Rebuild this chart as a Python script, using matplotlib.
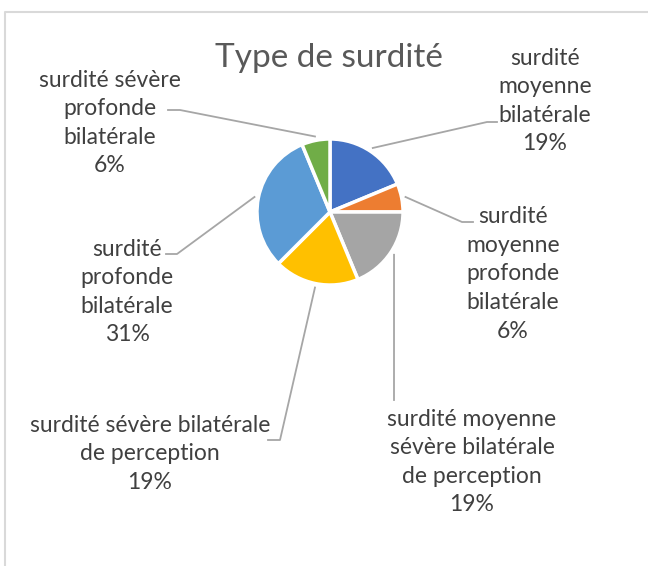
import matplotlib.pyplot as plt
import numpy as np

# number of patients per type of deafness
categories = ["surdité moyenne bilatérale",
              "surdité moyenne profonde bilatérale",
              "surdité moyenne sévère bilatérale de perception",
              "surdité sévère bilatérale de perception",
              "surdité profonde bilatérale",
              "surdité sévère profonde bilatérale"]
wrapped = ["surdité\nmoyenne\nbilatérale",
           "surdité\nmoyenne\nprofonde\nbilatérale",
           "surdité moyenne\nsévère bilatérale\nde perception",
           "surdité sévère bilatérale\nde perception",
           "surdité\nprofonde\nbilatérale",
           "surdité sévère\nprofonde\nbilatérale"]
counts = [3, 1, 3, 3, 5, 1]
colors = ["#4472C4", "#ED7D31", "#A5A5A5", "#FFC000", "#5B9BD5", "#70AD47"]

W, H = 648, 566
fig = plt.figure(figsize=(W / 100, H / 100), dpi=100)
ax = fig.add_axes([0, 0, 1, 1])

plt.rcParams["font.family"] = ["Lato", "DejaVu Sans"]

cx, cy, r = 330, H - 212, 73
wedges, _ = ax.pie(counts, colors=colors, startangle=90, counterclock=False,
                   center=(cx, cy), radius=r, explode=[0.03] * len(counts),
                   wedgeprops=dict(edgecolor="white", linewidth=2.5))
ax.set_xlim(0, W)
ax.set_ylim(0, H)
ax.set_aspect("equal")
ax.axis("off")

# chart frame (cut off at the right and bottom)
ax.plot([5, 5, W], [0, H - 12, H - 12], color="#D9D9D9", lw=1.5, clip_on=False)

ax.text(329, H - 58, "Type de surdité", ha="center", va="center",
        fontsize=24, color="#595959")

# label centre, elbow point, end of the leader line
layout = [
    ((545, 101), (487, 122), (497, 122)),
    ((513, 274), (462, 222), (473, 222)),
    ((472, 462), (394, 400), (394, 400)),
    ((150, 454), (280, 440), (268, 440)),
    ((127, 292), (177, 254), (166, 254)),
    ((110, 123), (180, 110), (168, 110)),
]

total = sum(counts)
for w, lab, v, (tpos, elbow, end) in zip(wedges, wrapped, counts, layout):
    mid = np.deg2rad((w.theta1 + w.theta2) / 2)
    sx = cx + (r + 4) * np.cos(mid)
    sy = cy + (r + 4) * np.sin(mid)
    ax.plot([sx, elbow[0], end[0]], [sy, H - elbow[1], H - end[1]],
            color="#A6A6A6", lw=1.3)
    ax.text(tpos[0], H - tpos[1], f"{lab}\n{v / total * 100:.0f}%",
            ha="center", va="center", fontsize=16.5, color="#404040",
            linespacing=1.45)

fig.savefig("out.png", dpi=100)
